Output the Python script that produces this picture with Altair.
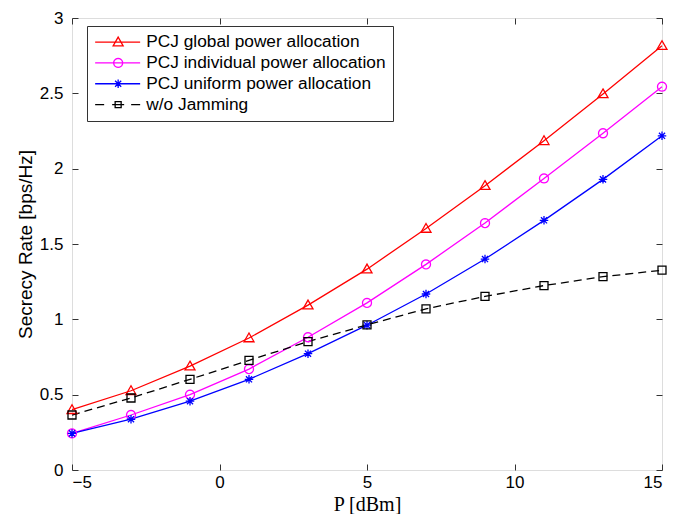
import math
import altair as alt
import pandas as pd

# ---- data ----
P_dbm = [-5, -3, -1, 1, 3, 5, 7, 9, 11, 13, 15]
series_names = [
    "PCJ global power allocation",
    "PCJ individual power allocation",
    "PCJ uniform power allocation",
    "w/o Jamming",
]
global_rate = [0.40, 0.526, 0.689, 0.876, 1.094, 1.333, 1.603, 1.887, 2.185, 2.496, 2.816]
individual_rate = [0.243, 0.365, 0.500, 0.670, 0.881, 1.109, 1.365, 1.639, 1.935, 2.235, 2.544]
uniform_rate = [0.243, 0.337, 0.457, 0.602, 0.772, 0.961, 1.168, 1.400, 1.657, 1.929, 2.218]
nojam_rate = [0.365, 0.478, 0.602, 0.728, 0.852, 0.963, 1.070, 1.152, 1.224, 1.283, 1.326]
x_ticks = [-5, 0, 5, 10, 15]
y_ticks = [0, 0.5, 1, 1.5, 2, 2.5, 3]

colors = ["#ff0000", "#ff00ff", "#0000ff", "#000000"]

rows = []
for name, vals in zip(series_names, [global_rate, individual_rate, uniform_rate, nojam_rate]):
    for p, v in zip(P_dbm, vals):
        rows.append({"P": p, "rate": v, "series": name})
df = pd.DataFrame(rows)


# ---- marker shapes (unit coordinates) ----
def f(v):
    return f"{v:.3f}"


def tri(cx=0.0, r=1.0):
    return f"M{f(cx)},{f(-r)}L{f(cx + r)},{f(0.75 * r)}L{f(cx - r)},{f(0.75 * r)}Z"


def circ(cx=0.0, r=0.9, n=20):
    pts = [(cx + r * math.cos(2 * math.pi * i / n), r * math.sin(2 * math.pi * i / n)) for i in range(n)]
    return "M" + "L".join(f"{f(x)},{f(y)}" for x, y in pts) + "Z"


def star(cx=0.0, r=0.85):
    d = r * 0.72
    return (f"M{f(cx - r)},0L{f(cx + r)},0M{f(cx)},{f(-r)}L{f(cx)},{f(r)}"
            f"M{f(cx - d)},{f(-d)}L{f(cx + d)},{f(d)}M{f(cx - d)},{f(d)}L{f(cx + d)},{f(-d)}")


def sq(cx=0.0, r=0.8):
    return f"M{f(cx - r)},{f(-r)}L{f(cx + r)},{f(-r)}L{f(cx + r)},{f(r)}L{f(cx - r)},{f(r)}Z"


marker_paths = [tri(), circ(), star(), sq()]

# legend glyphs: line + marker (shifted to the right of the symbol anchor)
lx0, lx1, mc = -1.6, 7.4, 3.0
line_seg = f"M{f(lx0)},0L{f(lx1)},0"
legend_paths = [
    line_seg + tri(mc),
    line_seg + circ(mc),
    line_seg + star(mc),
    f"M{f(lx0)},0L{f(lx0 + 1.8)},0M{f(mc - 1.2)},0L{f(mc + 1.2)},0M{f(lx1 - 1.8)},0L{f(lx1)},0" + sq(mc, 0.6),
]

legend = alt.Legend(
    title=None,
    orient="none",
    legendX=15,
    legendY=8,
    padding=7.5,
    strokeColor="#333333",
    fillColor="white",
    labelFont="Liberation Sans",
    labelFontSize=17.3,
    labelColor="black",
    labelOffset=34.5,
    labelLimit=500,
    rowPadding=2.8,
    symbolSize=100,
    symbolStrokeWidth=1.3,
    symbolOpacity=1,
    symbolFillColor="transparent",
)

xscale = alt.Scale(domain=[-5, 15], nice=False, zero=False)
yscale = alt.Scale(domain=[0, 3], nice=False)
color_scale = alt.Scale(domain=series_names, range=colors)

common_axis = dict(
    grid=False,
    domain=False,
    offset=-6,
    tickSize=6,
    tickColor="#333333",
    tickWidth=1,
)

x_bottom = alt.Axis(
    orient="bottom", values=x_ticks, format="~g",
    labelFont="Liberation Sans", labelFontSize=17, labelColor="black", labelPadding=4,
    title="P [dBm]", titleFont="Liberation Serif", titleFontSize=20, titleFontWeight="normal",
    titleColor="black", titlePadding=4, **common_axis,
)
y_left = alt.Axis(
    orient="left", values=y_ticks, format="~g",
    labelFont="Liberation Sans", labelFontSize=17, labelColor="black", labelPadding=9,
    title="Secrecy Rate [bps/Hz]", titleFont="Liberation Sans", titleFontSize=19,
    titleFontWeight="normal", titleColor="black", titlePadding=4, **common_axis,
)
x_top = alt.Axis(orient="top", values=x_ticks, labels=False, title=None, **common_axis)
y_right = alt.Axis(orient="right", values=y_ticks, labels=False, title=None, **common_axis)

base = alt.Chart(df)

# invisible layer (first, so its legend wins) carrying the legend and the top/right ticks
legend_layer = base.mark_point(filled=False, opacity=0, strokeWidth=1.3).encode(
    x=alt.X("P:Q", scale=xscale, axis=x_top),
    y=alt.Y("rate:Q", scale=yscale, axis=y_right),
    color=alt.Color("series:N", scale=color_scale, legend=legend, sort=series_names),
    shape=alt.Shape("series:N", scale=alt.Scale(domain=series_names, range=legend_paths),
                    legend=legend, sort=series_names),
)

solid_lines = base.transform_filter(alt.datum.series != series_names[3]).mark_line(strokeWidth=1.3).encode(
    x=alt.X("P:Q", scale=xscale, axis=x_bottom),
    y=alt.Y("rate:Q", scale=yscale, axis=y_left),
    color=alt.Color("series:N", scale=color_scale, legend=None),
)

dashed_line = base.transform_filter(alt.datum.series == series_names[3]).mark_line(
    strokeWidth=1.3, strokeDash=[8, 5]
).encode(
    x=alt.X("P:Q", scale=xscale, axis=None),
    y=alt.Y("rate:Q", scale=yscale, axis=None),
    color=alt.Color("series:N", scale=color_scale, legend=None),
)

marker_layers = []
for name, path in zip(series_names, marker_paths):
    marker_layers.append(
        base.transform_filter(alt.datum.series == name)
        .mark_point(filled=False, strokeWidth=1.3, opacity=1, shape=path, size=100)
        .encode(
            x=alt.X("P:Q", scale=xscale, axis=None),
            y=alt.Y("rate:Q", scale=yscale, axis=None),
            color=alt.Color("series:N", scale=color_scale, legend=None),
        )
    )

chart = (
    alt.layer(legend_layer, solid_lines, dashed_line, *marker_layers)
    .properties(
        width=590,
        height=452,
        autosize=alt.AutoSizeParams(type="none"),
        padding={"left": 64, "top": 10, "right": 16, "bottom": 44},
        background="white",
    )
    .configure_view(stroke="#333333", strokeWidth=1)
    .configure(font="Liberation Sans")
)

chart.save("out.html", embed_options={"renderer": "svg", "actions": False})
